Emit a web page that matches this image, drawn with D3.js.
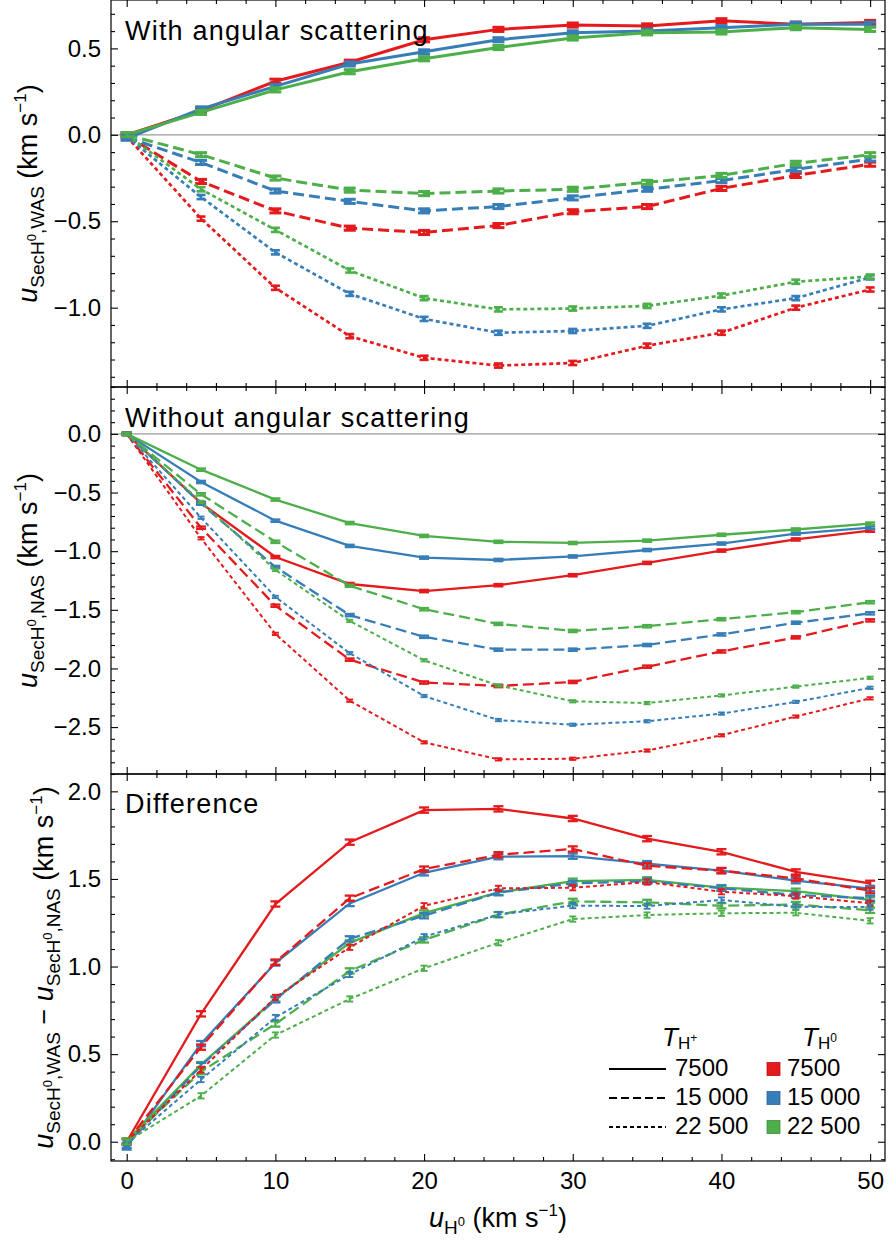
<!DOCTYPE html>
<html>
<head>
<meta charset="utf-8">
<script src="https://cdn.jsdelivr.net/npm/d3@7"></script>
<style>
  body { margin: 0; background: #fff; }
  svg { font-family: "Liberation Sans", Arial, sans-serif; }
</style>
</head>
<body>
<svg id="chart" width="888" height="1243"></svg>
<script>
// x values (u_H0, km/s)
var uH0 = [0, 5, 10, 15, 20, 25, 30, 35, 40, 45, 50];

// With angular scattering (WAS)
var wasSolidRed   = [0.00, 0.14, 0.31, 0.42, 0.55, 0.61, 0.635, 0.63, 0.66, 0.64, 0.65];
var wasSolidBlue  = [-0.02, 0.15, 0.28, 0.41, 0.48, 0.55, 0.59, 0.60, 0.62, 0.64, 0.64];
var wasSolidGreen = [0.00, 0.13, 0.26, 0.365, 0.44, 0.505, 0.56, 0.59, 0.595, 0.62, 0.61];
var wasDashRed    = [-0.005, -0.27, -0.44, -0.54, -0.565, -0.525, -0.445, -0.415, -0.31, -0.235, -0.17];
var wasDashBlue   = [-0.015, -0.16, -0.325, -0.385, -0.44, -0.415, -0.365, -0.315, -0.265, -0.20, -0.14];
var wasDashGreen  = [0.00, -0.115, -0.25, -0.32, -0.34, -0.325, -0.315, -0.275, -0.235, -0.165, -0.115];
var wasDotRed     = [-0.01, -0.485, -0.885, -1.165, -1.29, -1.335, -1.32, -1.22, -1.145, -1.00, -0.895];
var wasDotBlue    = [-0.01, -0.36, -0.68, -0.92, -1.065, -1.145, -1.135, -1.105, -1.01, -0.945, -0.825];
var wasDotGreen   = [0.00, -0.315, -0.55, -0.785, -0.945, -1.01, -1.005, -0.99, -0.93, -0.85, -0.82];

// Without angular scattering (NAS)
var nasSolidRed   = [0, -0.59, -1.05, -1.28, -1.34, -1.29, -1.205, -1.10, -0.995, -0.90, -0.825];
var nasSolidBlue  = [0, -0.41, -0.74, -0.955, -1.055, -1.075, -1.045, -0.99, -0.935, -0.85, -0.80];
var nasSolidGreen = [0, -0.305, -0.56, -0.76, -0.87, -0.92, -0.93, -0.91, -0.86, -0.815, -0.765];
var nasDashRed    = [0, -0.80, -1.465, -1.925, -2.12, -2.15, -2.115, -1.985, -1.855, -1.735, -1.59];
var nasDashBlue   = [0, -0.595, -1.135, -1.545, -1.73, -1.84, -1.84, -1.80, -1.71, -1.61, -1.53];
var nasDashGreen  = [0, -0.515, -0.92, -1.295, -1.495, -1.62, -1.68, -1.64, -1.58, -1.52, -1.435];
var nasDotRed     = [0, -0.89, -1.705, -2.275, -2.63, -2.775, -2.77, -2.70, -2.57, -2.41, -2.255];
var nasDotBlue    = [0, -0.715, -1.39, -1.87, -2.235, -2.44, -2.48, -2.45, -2.385, -2.285, -2.165];
var nasDotGreen   = [0, -0.58, -1.16, -1.595, -1.93, -2.145, -2.28, -2.295, -2.23, -2.155, -2.08];

// Difference (WAS - NAS)
var diffSolidRed   = [0.0, 0.73, 1.357, 1.71, 1.893, 1.90, 1.845, 1.73, 1.655, 1.54, 1.475];
var diffSolidBlue  = [-0.03, 0.56, 1.02, 1.36, 1.535, 1.627, 1.63, 1.587, 1.548, 1.49, 1.445];
var diffSolidGreen = [0.005, 0.44, 0.815, 1.135, 1.305, 1.423, 1.487, 1.495, 1.45, 1.43, 1.38];
var diffDashRed    = [0.0, 0.54, 1.025, 1.39, 1.556, 1.638, 1.671, 1.575, 1.547, 1.503, 1.433];
var diffDashBlue   = [-0.02, 0.435, 0.81, 1.158, 1.29, 1.422, 1.475, 1.487, 1.447, 1.408, 1.39];
var diffDashGreen  = [0.0, 0.40, 0.672, 0.975, 1.152, 1.296, 1.372, 1.366, 1.347, 1.354, 1.321];
var diffDotRed     = [0.0, 0.41, 0.824, 1.11, 1.347, 1.446, 1.45, 1.482, 1.427, 1.402, 1.361];
var diffDotBlue    = [-0.01, 0.355, 0.709, 0.955, 1.17, 1.297, 1.348, 1.345, 1.38, 1.341, 1.339];
var diffDotGreen   = [0.0, 0.262, 0.609, 0.815, 0.99, 1.136, 1.271, 1.294, 1.304, 1.307, 1.261];

// error bar half-widths per panel
var wasErr = 0.012, nasErr = 0.01, diffErr = 0.015;

// legend
var tHplus = ['7500', '15 000', '22 500'];
var tH0 = ['7500', '15 000', '22 500'];

var yTicksWas = [-1.0, -0.5, 0.0, 0.5];
var yTicksNas = [-2.5, -2.0, -1.5, -1.0, -0.5, 0.0];
var yTicksDiff = [0.0, 0.5, 1.0, 1.5, 2.0];
var xTicks = [0, 10, 20, 30, 40, 50];

var colors = ['#e41a1c', '#377eb8', '#4daf4a'];
var dashes = [null, '11,5', '4,3'];

var left = 111, right = 885, panelH = 387;

var svg = d3.select('#chart');

var x = d3.scaleLinear().domain([-1.056, 51.0]).range([left, right]);

var panels = [
  { top: 0, domain: [-1.459, 0.78], ticks: yTicksWas, err: wasErr, lw: 3, cap: 6, zero: true,
    title: 'With angular scattering', labelX: 37,
    series: [[wasSolidRed, wasSolidBlue, wasSolidGreen],
             [wasDashRed, wasDashBlue, wasDashGreen],
             [wasDotRed, wasDotBlue, wasDotGreen]] },
  { top: 387, domain: [-2.90, 0.40], ticks: yTicksNas, err: nasErr, lw: 2.3, cap: 5, zero: true,
    title: 'Without angular scattering', labelX: 37,
    series: [[nasSolidRed, nasSolidBlue, nasSolidGreen],
             [nasDashRed, nasDashBlue, nasDashGreen],
             [nasDotRed, nasDotBlue, nasDotGreen]] },
  { top: 774, domain: [-0.11, 2.099], ticks: yTicksDiff, err: diffErr, lw: 2.3, cap: 5, zero: false,
    title: 'Difference', labelX: 53,
    series: [[diffSolidRed, diffSolidBlue, diffSolidGreen],
             [diffDashRed, diffDashBlue, diffDashGreen],
             [diffDotRed, diffDotBlue, diffDotGreen]] }
];

var fmt = d3.format('.1f');
var xMinor = d3.range(0, 51, 2).filter(function(d) { return d % 10 !== 0; });

panels.forEach(function(p, pi) {
  var bottom = p.top + panelH;
  var y = d3.scaleLinear().domain(p.domain).range([bottom, p.top]);
  var g = svg.append('g');

  var yMinor = d3.range(Math.ceil(p.domain[0] * 10), Math.floor(p.domain[1] * 10) + 1)
    .map(function(d) { return d / 10; })
    .filter(function(d) { return Math.abs(d * 2 - Math.round(d * 2)) > 1e-6; });

  if (p.zero) {
    g.append('line')
      .attr('x1', left).attr('x2', right)
      .attr('y1', y(0)).attr('y2', y(0))
      .attr('stroke', '#999').attr('stroke-width', 1.3);
  }

  // series lines + error bars
  p.series.forEach(function(row, si) {
    row.forEach(function(vals, ci) {
      var pts = uH0.map(function(u, i) { return [u, vals[i]]; });
      var line = d3.line()
        .x(function(d) { return x(d[0]); })
        .y(function(d) { return y(d[1]); });
      g.append('path')
        .datum(pts)
        .attr('d', line)
        .attr('fill', 'none')
        .attr('stroke', colors[ci])
        .attr('stroke-width', si === 2 ? p.lw - 0.3 : p.lw)
        .attr('stroke-dasharray', dashes[si]);

      var eb = g.append('g').attr('stroke', colors[ci]).attr('stroke-width', si === 2 ? p.lw - 0.4 : p.lw);
      var cw = si === 2 ? p.cap - 1.5 : p.cap;
      pts.forEach(function(d) {
        var x0 = x(d[0]), y1 = y(d[1] - p.err), y2 = y(d[1] + p.err);
        eb.append('line').attr('x1', x0).attr('x2', x0).attr('y1', y1).attr('y2', y2);
        eb.append('line').attr('x1', x0 - cw).attr('x2', x0 + cw).attr('y1', y1).attr('y2', y1);
        eb.append('line').attr('x1', x0 - cw).attr('x2', x0 + cw).attr('y1', y2).attr('y2', y2);
      });
    });
  });

  // frame axes
  function styleAxis(sel) {
    sel.select('.domain').remove();
    sel.selectAll('line').attr('stroke', '#000').attr('stroke-width', 1.1);
    sel.selectAll('text').attr('font-size', 24).attr('fill', '#000')
      .attr('font-family', '"Liberation Sans", Arial, sans-serif');
  }

  g.append('g').attr('transform', 'translate(' + left + ',0)')
    .call(d3.axisLeft(y).tickValues(p.ticks).tickSize(-7).tickPadding(10).tickFormat(fmt)).call(styleAxis);
  g.append('g').attr('transform', 'translate(' + left + ',0)')
    .call(d3.axisLeft(y).tickValues(yMinor).tickSize(-4).tickFormat('')).call(styleAxis);
  g.append('g').attr('transform', 'translate(' + right + ',0)')
    .call(d3.axisRight(y).tickValues(p.ticks).tickSize(-7).tickFormat('')).call(styleAxis);
  g.append('g').attr('transform', 'translate(' + right + ',0)')
    .call(d3.axisRight(y).tickValues(yMinor).tickSize(-4).tickFormat('')).call(styleAxis);

  g.append('g').attr('transform', 'translate(0,' + p.top + ')')
    .call(d3.axisTop(x).tickValues(xTicks).tickSize(-7).tickFormat('')).call(styleAxis);
  g.append('g').attr('transform', 'translate(0,' + p.top + ')')
    .call(d3.axisTop(x).tickValues(xMinor).tickSize(-4).tickFormat('')).call(styleAxis);
  g.append('g').attr('transform', 'translate(0,' + bottom + ')')
    .call(d3.axisBottom(x).tickValues(xTicks).tickSize(-7).tickPadding(11)
      .tickFormat(pi === 2 ? d3.format('d') : '')).call(styleAxis);
  g.append('g').attr('transform', 'translate(0,' + bottom + ')')
    .call(d3.axisBottom(x).tickValues(xMinor).tickSize(-4).tickFormat('')).call(styleAxis);

  g.append('rect')
    .attr('x', left).attr('y', p.top)
    .attr('width', right - left).attr('height', panelH)
    .attr('fill', 'none').attr('stroke', '#000').attr('stroke-width', 1.2);

  // panel title
  var titleY = [40, 427, 813][pi];
  g.append('text')
    .attr('x', 125).attr('y', titleY)
    .attr('font-size', 27)
    .attr('letter-spacing', 1.2)
    .text(p.title);
});

// rich text helper: parts = [text, size, baseline shift (px, up negative), italic]
function richText(sel, parts) {
  var cur = 0;
  parts.forEach(function(pt) {
    var ts = sel.append('tspan')
      .attr('font-size', pt[1])
      .attr('dy', pt[2] - cur)
      .text(pt[0]);
    if (pt[3]) ts.attr('font-style', 'italic');
    cur = pt[2];
  });
}

function uSub(tag) {
  return [['u', 27, 0, true], ['SecH', 19, 7], ['0', 13, -1], [',' + tag, 19, 7]];
}
var unitParts = [[' (km s', 27, 0], ['\u22121', 17, -11], [')', 27, 0]];

var yLabels = [
  uSub('WAS').concat(unitParts),
  uSub('NAS').concat(unitParts),
  uSub('WAS').concat([[' \u2212 ', 27, 0]]).concat(uSub('NAS')).concat(unitParts)
];

panels.forEach(function(p, pi) {
  var cy = p.top + panelH / 2;
  var t = svg.append('text')
    .attr('transform', 'translate(' + p.labelX + ',' + cy + ') rotate(-90)')
    .attr('text-anchor', 'middle');
  richText(t, yLabels[pi]);
});

// x axis title
var xt = svg.append('text')
  .attr('x', 498).attr('y', 1227)
  .attr('text-anchor', 'middle');
richText(xt, [['u', 27, 0, true], ['H', 19, 7], ['0', 13, -1], [' (km s', 27, 0], ['\u22121', 17, -11], [')', 27, 0]]);

// legend
var lg = svg.append('g');
var hp = lg.append('text').attr('x', 662).attr('y', 1046);
richText(hp, [['T', 26, 0, true], ['H', 17, 3], ['+', 12, -4]]);
var h0 = lg.append('text').attr('x', 802).attr('y', 1046);
richText(h0, [['T', 26, 0, true], ['H', 17, 3], ['0', 12, -4]]);

var rowY = [1069, 1098, 1127];
var legDash = [null, '8,4', '4,3'];
tHplus.forEach(function(lbl, i) {
  lg.append('line')
    .attr('x1', 609).attr('x2', 666)
    .attr('y1', rowY[i]).attr('y2', rowY[i])
    .attr('stroke', '#000').attr('stroke-width', 2.2)
    .attr('stroke-dasharray', legDash[i]);
  lg.append('text').attr('x', 675).attr('y', rowY[i] + 7)
    .attr('font-size', 24).text(lbl);
});
tH0.forEach(function(lbl, i) {
  lg.append('rect')
    .attr('x', 767).attr('y', rowY[i] - 6.5)
    .attr('width', 13).attr('height', 13)
    .attr('fill', colors[i])
    .attr('stroke', d3.color(colors[i]).darker(0.6)).attr('stroke-width', 0.8);
  lg.append('text').attr('x', 787).attr('y', rowY[i] + 7)
    .attr('font-size', 24).text(lbl);
});
</script>
</body>
</html>
